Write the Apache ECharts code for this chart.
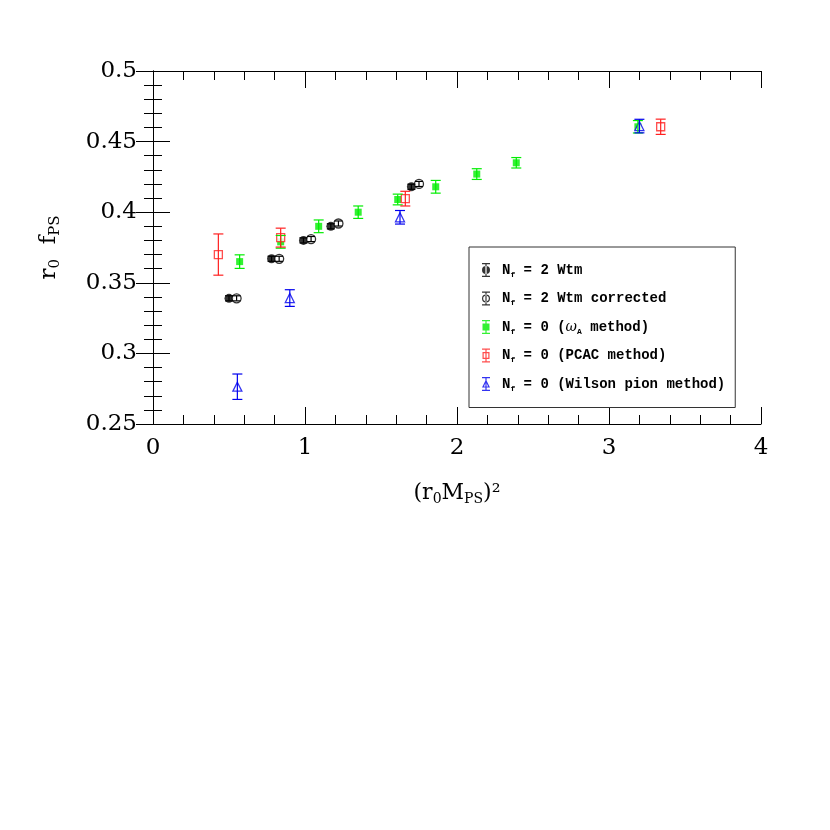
<!DOCTYPE html>
<html>
<head>
<meta charset="utf-8">
<script src="https://cdn.jsdelivr.net/npm/echarts@6/dist/echarts.min.js"></script>
<style>
  html, body { margin: 0; padding: 0; background: #fff; }
  #main { width: 830px; height: 830px; }
</style>
</head>
<body>
<div id="main"></div>
<script>
// Nf = 2 Wtm
var wtmX = [0.50, 0.78, 0.99, 1.17, 1.70];
var wtmY = [0.339, 0.367, 0.380, 0.390, 0.418];
var wtmErr = [0.0018, 0.0018, 0.0018, 0.0018, 0.0018];
// Nf = 2 Wtm corrected
var corrX = [0.55, 0.83, 1.04, 1.22, 1.75];
var corrY = [0.339, 0.367, 0.381, 0.392, 0.420];
var corrErr = [0.0018, 0.0018, 0.0018, 0.0018, 0.0018];
// Nf = 0 (omega_A method)
var omegaX = [0.57, 0.84, 1.09, 1.35, 1.61, 1.86, 2.13, 2.39, 3.19];
var omegaY = [0.365, 0.379, 0.390, 0.400, 0.409, 0.418, 0.427, 0.435, 0.4605];
var omegaErr = [0.0048, 0.0045, 0.0045, 0.0044, 0.0038, 0.0045, 0.0038, 0.0037, 0.0044];
// Nf = 0 (PCAC method)
var pcacX = [0.43, 0.84, 1.66, 3.34];
var pcacY = [0.370, 0.382, 0.4096, 0.4605];
var pcacErr = [0.0146, 0.0067, 0.0052, 0.0054];
// Nf = 0 (Wilson pion method)
var wilsonX = [0.555, 0.90, 1.625, 3.20];
var wilsonY = [0.2764, 0.3392, 0.3964, 0.461];
var wilsonErr = [0.009, 0.0059, 0.0048, 0.0048];

var labels = {
	wtm: '{n|N}{s|f}{t| = 2 Wtm}',
	corr: '{n|N}{s|f}{t| = 2 Wtm corrected}',
	omega: '{n|N}{s|f}{t| = 0 (}{g|ω}{s|A}{t| method)}',
	pcac: '{n|N}{s|f}{t| = 0 (PCAC method)}',
	wilson: '{n|N}{s|f}{t| = 0 (Wilson pion method)}'
};

// legend icons: marker with its error bar, 10x14 box
var bar = 'M4.4 0H5.6V14H4.4Z M1 0H9V1.2H1Z M1 12.8H9V14H1Z ';
var icons = {
	wtm: 'path://' + bar + 'M1 7A4 4 0 1 0 9 7A4 4 0 1 0 1 7Z',
	corr: 'path://' + bar + 'M1 7A4 4 0 1 0 9 7A4 4 0 1 0 1 7Z M2.2 7A2.8 2.8 0 1 1 7.8 7A2.8 2.8 0 1 1 2.2 7Z',
	omega: 'path://' + bar + 'M1.5 3.5H8.5V10.5H1.5Z',
	pcac: 'path://' + bar + 'M1.5 3.5H8.5V10.5H1.5Z M2.7 4.7V9.3H7.3V4.7Z',
	wilson: 'path://' + bar + 'M5 2.5L9 10.5H1Z M5 4.8L2.9 9.4H7.1Z'
};

function pack(xs, ys, es) {
	var arr = [];
	for (var i = 0; i < xs.length; i++) {
		arr.push([xs[i], ys[i], es[i]]);
	}
	return arr;
}

function errRender(color, hw) {
	return function(params, api) {
		var x = api.value(0), y = api.value(1), e = api.value(2);
		var top = api.coord([x, y + e]);
		var bot = api.coord([x, y - e]);
		var st = { stroke: color, lineWidth: 1.2 };
		return {
			type: 'group',
			children: [
				{ type: 'line', shape: { x1: top[0], y1: top[1], x2: bot[0], y2: bot[1] }, style: st },
				{ type: 'line', shape: { x1: top[0] - hw, y1: top[1], x2: top[0] + hw, y2: top[1] }, style: st },
				{ type: 'line', shape: { x1: bot[0] - hw, y1: bot[1], x2: bot[0] + hw, y2: bot[1] }, style: st }
			]
		};
	};
}

function scatterSerie(name, data, symbol, size, color, filled) {
	return {
		name: name,
		type: 'scatter',
		data: data,
		symbol: symbol,
		symbolSize: size,
		z: 3,
		itemStyle: filled ? { color: color } : { color: '#fff', borderColor: color, borderWidth: 1.3 }
	};
}

function errSerie(name, data, color, hw) {
	return {
		name: name,
		type: 'custom',
		data: data,
		renderItem: errRender(color, hw),
		encode: { x: 0, y: 1 },
		z: 4,
		silent: true
	};
}

var sets = [
	{ n: 'wtm', d: pack(wtmX, wtmY, wtmErr), sym: 'circle', size: 9, c: '#000', f: true, hw: 4 },
	{ n: 'corr', d: pack(corrX, corrY, corrErr), sym: 'circle', size: 9, c: '#000', f: false, hw: 4 },
	{ n: 'omega', d: pack(omegaX, omegaY, omegaErr), sym: 'rect', size: 7, c: '#00ee00', f: true, hw: 5 },
	{ n: 'pcac', d: pack(pcacX, pcacY, pcacErr), sym: 'rect', size: 8, c: '#ff2020', f: false, hw: 5 },
	{ n: 'wilson', d: pack(wilsonX, wilsonY, wilsonErr), sym: 'triangle', size: 9, c: '#0000ee', f: false, hw: 5 }
];

var series = [];
var legendData = [];
for (var i = 0; i < sets.length; i++) {
	var s = sets[i];
	series.push(scatterSerie(s.n, s.d, s.sym, s.size, s.c, s.f));
	legendData.push({ name: s.n, icon: icons[s.n], itemStyle: { color: s.c, borderWidth: 0 } });
}
for (var j = 0; j < sets.length; j++) {
	var t = sets[j];
	series.push(errSerie(t.n, t.d, t.c, t.hw));
}

var serif = 'DejaVu Serif';
var tickStyle = { inside: true, length: 17, lineStyle: { color: '#000', width: 1 } };
var minorStyle = { show: true, splitNumber: 5, length: 9, lineStyle: { color: '#000', width: 1 } };
var lineStyle = { show: true, lineStyle: { color: '#000', width: 1 } };
var mono = 'Liberation Mono';

var option = {
	backgroundColor: '#fff',
	animation: false,
	grid: { left: 153, right: 69, top: 71, bottom: 406 },
	legend: {
		data: legendData,
		orient: 'vertical',
		left: 469,
		top: 247,
		padding: [16, 10, 15, 13],
		itemWidth: 10,
		itemHeight: 14,
		itemGap: 13,
		borderColor: '#333',
		borderWidth: 1,
		selectedMode: false,
		formatter: function(name) { return labels[name]; },
		textStyle: {
			rich: {
				n: { fontFamily: mono, fontSize: 14, color: '#000', fontWeight: 'bold', lineHeight: 17, padding: [0, 0, 0, 6] },
				t: { fontFamily: mono, fontSize: 14, color: '#000', fontWeight: 'bold', lineHeight: 17 },
				s: { fontFamily: mono, fontSize: 8, color: '#000', fontWeight: 'bold', padding: [9, 0, 0, 0] },
				g: { fontFamily: serif, fontSize: 14, color: '#000', fontStyle: 'italic' }
			}
		}
	},
	xAxis: [{
		type: 'value', min: 0, max: 4, interval: 1, position: 'bottom',
		axisLine: lineStyle, axisTick: tickStyle, minorTick: minorStyle,
		splitLine: { show: false },
		axisLabel: { margin: 13, fontFamily: serif, fontSize: 23, color: '#000' },
		name: '{t|(r}{s|0}{t|M}{s|PS}{t|)²}',
		nameLocation: 'middle',
		nameGap: 56,
		nameTextStyle: {
			rich: {
				t: { fontFamily: serif, fontSize: 22, color: '#000', lineHeight: 26 },
				s: { fontFamily: serif, fontSize: 14, color: '#000', padding: [12, 0, 0, 0] }
			}
		}
	}, {
		type: 'value', min: 0, max: 4, interval: 1, position: 'top',
		axisLine: lineStyle, axisTick: tickStyle, minorTick: minorStyle,
		splitLine: { show: false }, axisLabel: { show: false }
	}],
	yAxis: [{
		type: 'value', min: 0.25, max: 0.5, interval: 0.05, position: 'left',
		axisLine: lineStyle, axisTick: tickStyle, minorTick: minorStyle,
		splitLine: { show: false },
		axisLabel: { margin: 16, fontFamily: serif, fontSize: 23, color: '#000' },
		name: '{t|r}{s|0}{t|  f}{s|PS}',
		nameLocation: 'middle',
		nameGap: 90,
		nameTextStyle: {
			rich: {
				t: { fontFamily: serif, fontSize: 23, color: '#000', lineHeight: 27 },
				s: { fontFamily: serif, fontSize: 15, color: '#000', padding: [12, 0, 0, 0] }
			}
		}
	}, {
		type: 'value', min: 0.25, max: 0.5, interval: 0.05, position: 'right',
		axisLine: lineStyle, axisTick: tickStyle, minorTick: minorStyle,
		splitLine: { show: false }, axisLabel: { show: false }
	}],
	series: series
};

var myChart = echarts.init(document.getElementById('main'));
myChart.setOption(option, true);
</script>
</body>
</html>
